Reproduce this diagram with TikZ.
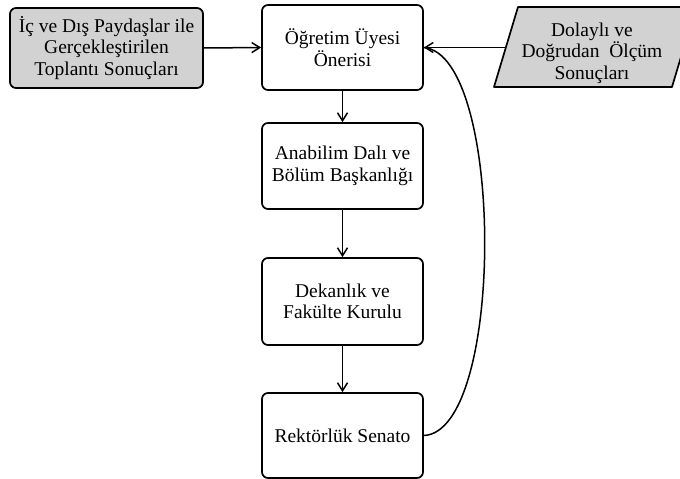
\documentclass[tikz,border=0pt]{standalone}
\usepackage{fontspec}
\setmainfont{Liberation Serif}
\usetikzlibrary{arrows.meta}
\tikzset{
  box/.style={draw=black, line width=1.7pt, rounded corners=6pt, align=center,
    minimum width=161pt, inner sep=0pt,
    font=\fontsize{19.5}{21.5}\selectfont},
  graybox/.style={box, fill=gray!35, minimum width=193pt, minimum height=80pt},
  conn/.style={line width=1.5pt, -{Straight Barb[length=8pt,width=10pt,line width=1.5pt]}},
  plain/.style={line width=1.5pt},
  txt/.style={align=center, inner sep=0pt, font=\fontsize{19.5}{21.5}\selectfont}
}
\begin{document}
\begin{tikzpicture}[x=1pt,y=-1pt]
\useasboundingbox (0,0) rectangle (680,479);
% parallelogram shape
\filldraw[fill=gray!35, draw=black, line width=1.7pt, line join=round]
  (518,7) -- (696,7) -- (672,87) -- (494,87) -- cycle;
\node[txt] (dol) at (592,53) {Dolaylı ve\\Doğrudan\ \ Ölçüm\\Sonuçları};
\coordinate (dolL) at (506,47.5);

\node[graybox] (ic) at (106.5,48) {İç ve Dış Paydaşlar ile\\Gerçekleştirilen\\Toplantı Sonuçları};
\node[box, minimum height=85pt] (ogr) at (342.5,47.5) {Öğretim Üyesi\\Önerisi};
\node[box, minimum height=86pt] (ana) at (342.5,166) {Anabilim Dalı ve\\Bölüm Başkanlığı};
\node[box, minimum height=87pt] (dek) at (342.5,301.5) {Dekanlık ve\\Fakülte Kurulu};
\node[box, minimum height=85pt] (rek) at (342.5,435.5) {Rektörlük Senato};

\draw[conn] (ic.east) -- (ogr.west);
\draw[conn] (dolL) -- (ogr.east);
\draw[conn] (ogr.south) -- (ana.north);
\draw[conn] (ana.south) -- (dek.north);
\draw[conn] (dek.south) -- (rek.north);
\draw[plain] (rek.east) .. controls (505,432) and (505,55) .. (ogr.east);
\end{tikzpicture}
\end{document}
